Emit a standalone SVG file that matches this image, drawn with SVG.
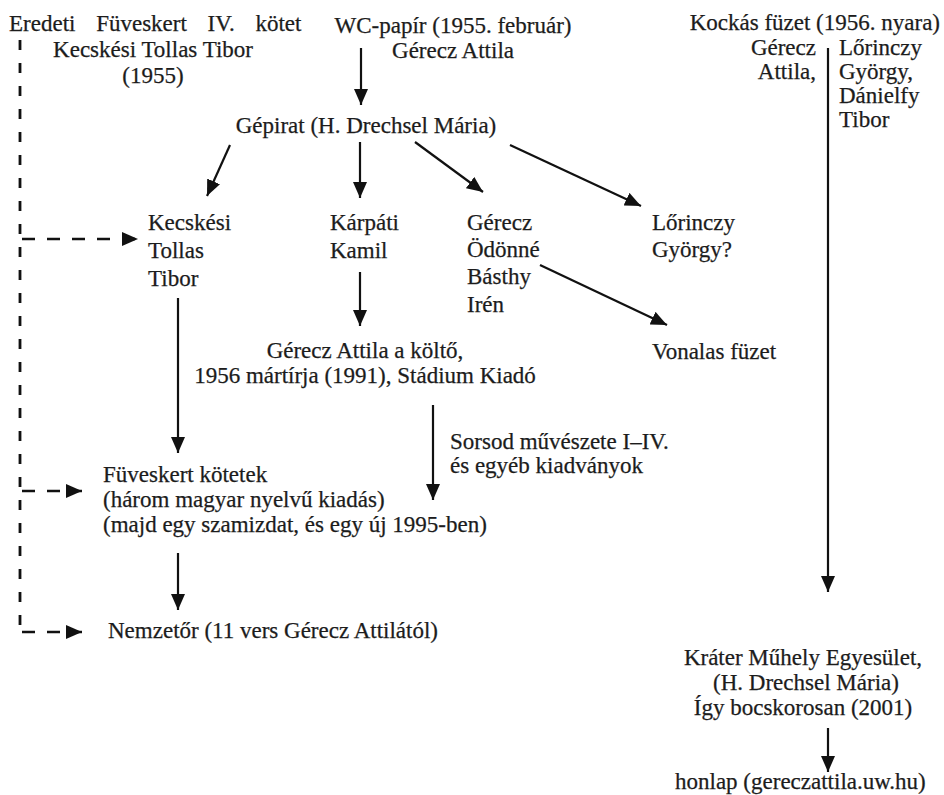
<svg xmlns="http://www.w3.org/2000/svg" width="944" height="795" viewBox="0 0 944 795">
<style>
text{font-family:"Liberation Serif","DejaVu Serif",serif;font-size:23px;fill:#1c1c1c;stroke:#1c1c1c;stroke-width:0.25px}
.m{text-anchor:middle}
.e{text-anchor:end}
.ln{stroke:#111111;stroke-width:2.2;fill:none}
.dl{stroke:#111111;stroke-width:2.5;fill:none;stroke-dasharray:13 12}
.dv{stroke:#111111;stroke-width:2.8;fill:none;stroke-dasharray:10 13}
</style>
<defs>
<marker id="ah" viewBox="0 0 16 14" refX="16" refY="7" markerWidth="16" markerHeight="14" markerUnits="userSpaceOnUse" orient="auto">
<path d="M0,0 L16,7 L0,14 z" fill="#111111"/>
</marker>
</defs>
<rect width="944" height="795" fill="#ffffff"/>

<g id="connectors">
<line class="ln" x1="361" y1="48" x2="361" y2="105" marker-end="url(#ah)"/>
<line class="ln" x1="230" y1="145" x2="207" y2="196" marker-end="url(#ah)"/>
<line class="ln" x1="360" y1="142" x2="360" y2="198" marker-end="url(#ah)"/>
<line class="ln" x1="415" y1="142" x2="483" y2="192" marker-end="url(#ah)"/>
<line class="ln" x1="510" y1="145" x2="641" y2="206" marker-end="url(#ah)"/>
<line class="ln" x1="540" y1="265" x2="667" y2="325" marker-end="url(#ah)"/>
<line class="ln" x1="360" y1="272" x2="360" y2="326" marker-end="url(#ah)"/>
<line class="ln" x1="433" y1="405" x2="433" y2="500" marker-end="url(#ah)"/>
<line class="ln" x1="178" y1="298" x2="178" y2="453" marker-end="url(#ah)"/>
<line class="ln" x1="178" y1="553" x2="178" y2="610" marker-end="url(#ah)"/>
<line class="ln" x1="828" y1="48" x2="828" y2="592" marker-end="url(#ah)"/>
<line class="ln" x1="828" y1="728" x2="828" y2="772" marker-end="url(#ah)"/>
<line class="dv" x1="20" y1="40" x2="20" y2="636"/>
<line class="dl" x1="22" y1="239" x2="138" y2="239" marker-end="url(#ah)"/>
<line class="dl" x1="22" y1="491" x2="82" y2="491" marker-end="url(#ah)"/>
<line class="dl" x1="22" y1="632" x2="82" y2="632" marker-end="url(#ah)"/>
</g>

<g id="n-eredeti">
<text x="9" y="31" style="word-spacing:15px">Eredeti Füveskert IV. kötet</text>
<text class="m" x="153" y="57">Kecskési Tollas Tibor</text>
<text class="m" x="153" y="83">(1955)</text>
</g>

<g id="n-wc">
<text class="m" x="453" y="33">WC-papír (1955. február)</text>
<text class="m" x="453" y="58">Gérecz Attila</text>
</g>

<g id="n-kockas">
<text class="e" x="940" y="30">Kockás füzet (1956. nyara)</text>
<text class="e" x="816" y="55">Gérecz</text>
<text class="e" x="816" y="79">Attila,</text>
<text x="839" y="55">Lőrinczy</text>
<text x="839" y="79">György,</text>
<text x="839" y="103">Dánielfy</text>
<text x="839" y="127">Tibor</text>
</g>

<g id="n-gepirat">
<text class="m" x="366" y="133">Gépirat (H. Drechsel Mária)</text>
</g>

<g id="n-kecskesi">
<text x="148" y="230">Kecskési</text>
<text x="148" y="258">Tollas</text>
<text x="148" y="286">Tibor</text>
</g>

<g id="n-karpati">
<text x="330" y="230">Kárpáti</text>
<text x="330" y="258">Kamil</text>
</g>

<g id="n-gerecz-odonne">
<text x="467" y="230">Gérecz</text>
<text x="467" y="257">Ödönné</text>
<text x="467" y="284">Básthy</text>
<text x="467" y="312">Irén</text>
</g>

<g id="n-lorinczy">
<text x="652" y="230">Lőrinczy</text>
<text x="652" y="257">György?</text>
</g>

<g id="n-vonalas">
<text x="652" y="359">Vonalas füzet</text>
</g>

<g id="n-kolto">
<text class="m" x="365" y="358">Gérecz Attila a költő,</text>
<text class="m" x="365" y="383">1956 mártírja (1991), Stádium Kiadó</text>
</g>

<g id="n-sorsod">
<text x="450" y="449">Sorsod művészete I–IV.</text>
<text x="450" y="473">és egyéb kiadványok</text>
</g>

<g id="n-fuveskert">
<text x="103" y="482">Füveskert kötetek</text>
<text x="103" y="507">(három magyar nyelvű kiadás)</text>
<text x="103" y="532">(majd egy szamizdat, és egy új 1995-ben)</text>
</g>

<g id="n-nemzetor">
<text x="108" y="638">Nemzetőr (11 vers Gérecz Attilától)</text>
</g>

<g id="n-krater">
<text class="m" x="803" y="665">Kráter Műhely Egyesület,</text>
<text class="m" x="806" y="690">(H. Drechsel Mária)</text>
<text class="m" x="803" y="715">Így bocskorosan (2001)</text>
</g>

<g id="n-honlap">
<text x="675" y="789">honlap (gereczattila.uw.hu)</text>
</g>
</svg>
